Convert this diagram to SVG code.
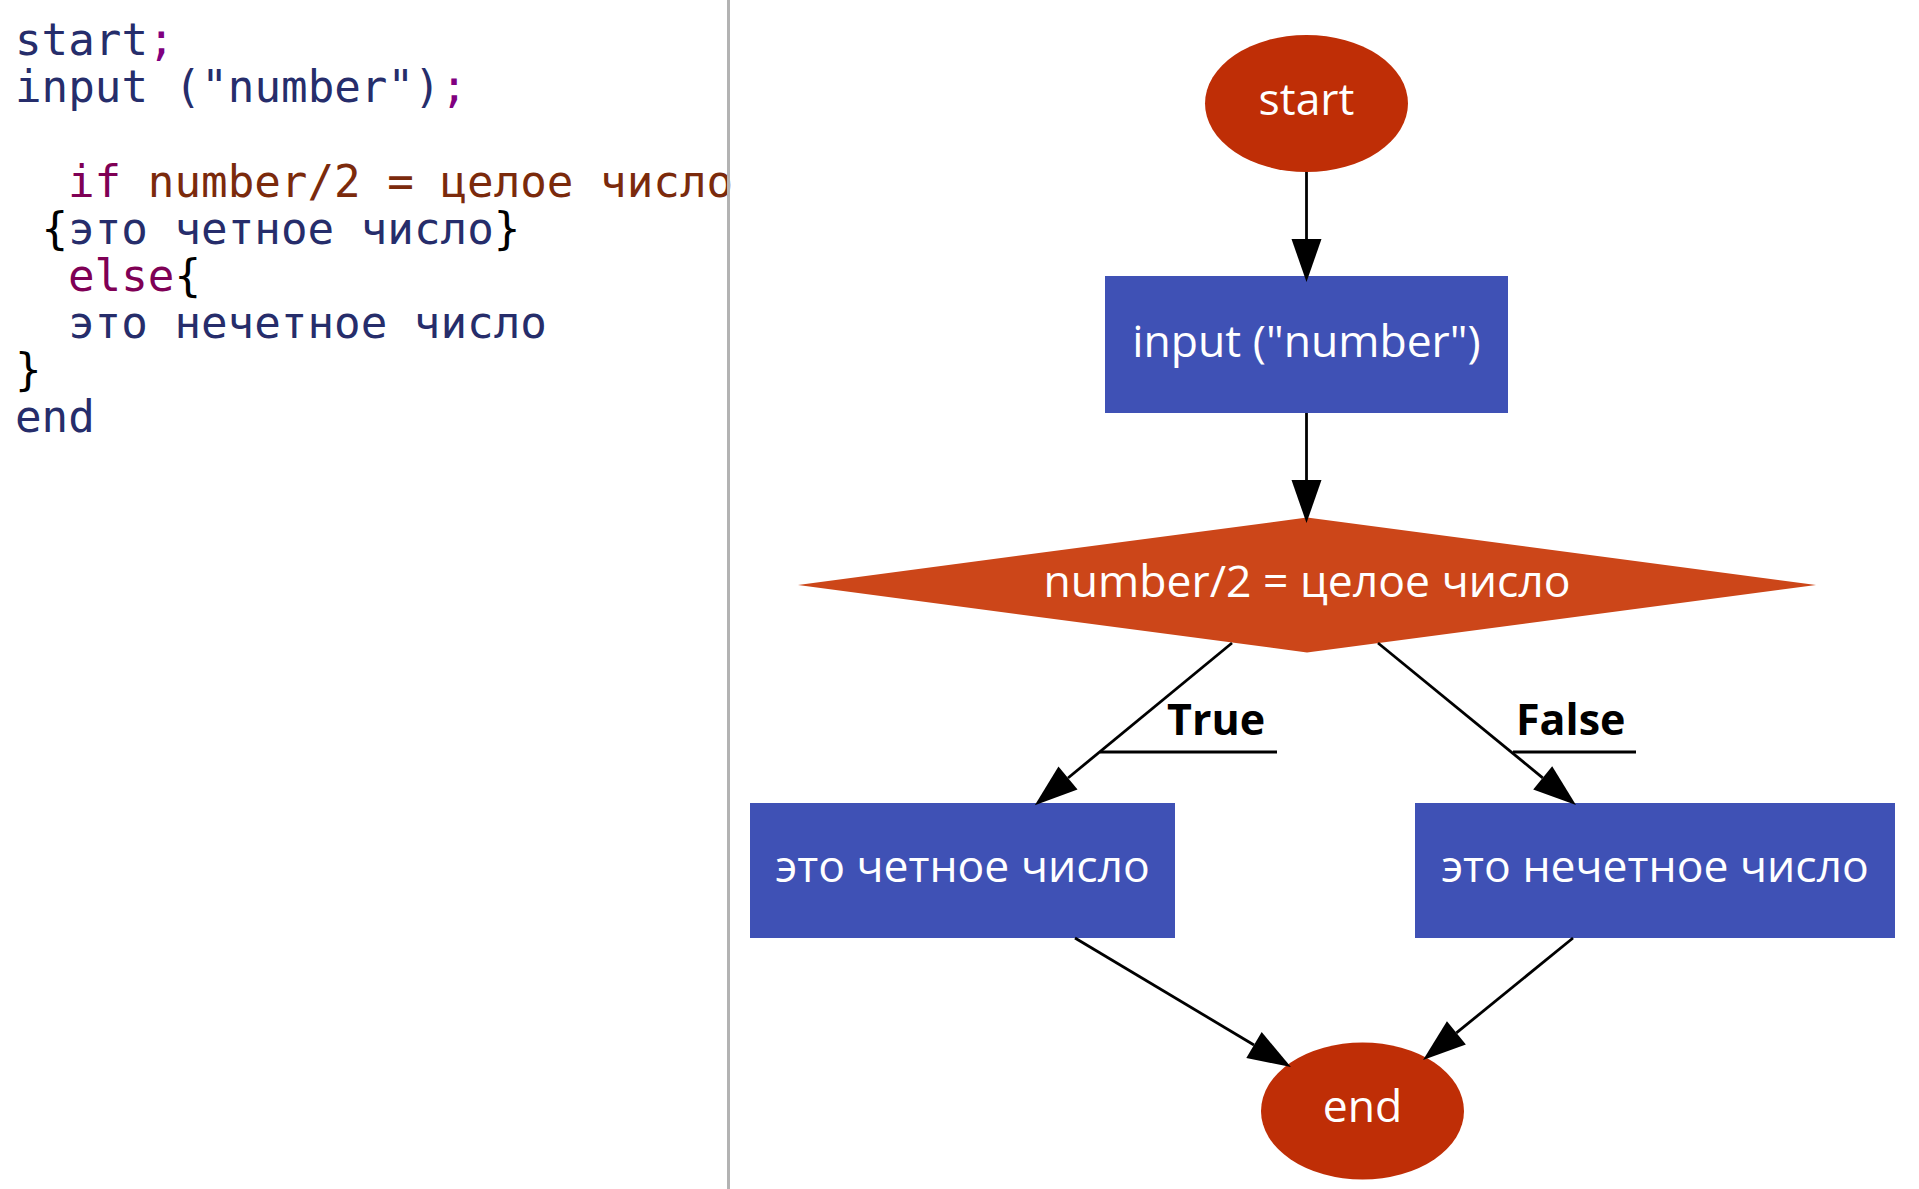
<svg xmlns="http://www.w3.org/2000/svg" width="1919" height="1189" viewBox="0 0 1919 1189">
  <style>
    .code { font-family: "DejaVu Sans Mono", "Liberation Mono", monospace; font-size: 44.2px; fill: #262d6b; }
    .kw { fill: #7f0055; }
    .semi { fill: #800080; }
    .cond { fill: #7b2a0c; }
    .brace { fill: #000000; }
    .lbl { font-family: "Open Sans", "Noto Sans", sans-serif; font-size: 44.5px; fill: #ffffff; text-anchor: middle; }
    .elabel { font-family: "Open Sans", "Noto Sans", sans-serif; font-size: 43px; font-weight: bold; fill: #000000; }
    .term { fill: #bf2e06; }
    .proc { fill: #3f51b5; }
    .dec { fill: #cc4619; }
    .edge { fill: none; stroke: #000000; stroke-width: 2.8; }
  </style>
  <defs>
    <marker id="arrow" markerUnits="userSpaceOnUse" markerWidth="44" markerHeight="31" refX="0" refY="15" orient="auto" overflow="visible">
      <path d="M0,0 L43,15 L0,30 Z" fill="#000000"/>
    </marker>
  </defs>
  <rect x="0" y="0" width="1919" height="1189" fill="#ffffff"/>

  <g id="code" xml:space="preserve">
    <text class="code" x="15" y="55">start<tspan class="semi">;</tspan></text>
    <text class="code" x="15" y="102">input ("number")<tspan class="semi">;</tspan></text>
    <text class="code" x="68" y="197"><tspan class="kw">if</tspan><tspan class="cond"> number/2 = целое число</tspan></text>
    <text class="code" x="41.5" y="244"><tspan class="brace">{</tspan>это четное число<tspan class="brace">}</tspan></text>
    <text class="code" x="68" y="291"><tspan class="kw">else</tspan><tspan class="brace">{</tspan></text>
    <text class="code" x="68" y="338">это нечетное число</text>
    <text class="code brace" x="15" y="385">}</text>
    <text class="code" x="15" y="432">end</text>
  </g>

  <line id="separator" x1="728.5" y1="0" x2="728.5" y2="1189" stroke="#b3b3b3" stroke-width="3"/>

  <g id="node-start">
    <ellipse class="term" cx="1306.5" cy="103.5" rx="101.5" ry="68.5"/>
    <text class="lbl" x="1306.5" y="115">start</text>
  </g>
  <g id="node-input">
    <rect class="proc" x="1105" y="276" width="403" height="137"/>
    <text class="lbl" x="1306.5" y="357">input ("number")</text>
  </g>
  <g id="node-decision">
    <polygon class="dec" points="1307,517.5 1816,585 1307,652.5 798,585"/>
    <text class="lbl" x="1307" y="597">number/2 = целое число</text>
  </g>
  <g id="node-even">
    <rect class="proc" x="750" y="803" width="425" height="135"/>
    <text class="lbl" x="962.5" y="882">это четное число</text>
  </g>
  <g id="node-odd">
    <rect class="proc" x="1415" y="803" width="480" height="135"/>
    <text class="lbl" x="1655" y="882">это нечетное число</text>
  </g>
  <g id="node-end">
    <ellipse class="term" cx="1362.5" cy="1111" rx="101.5" ry="68.5"/>
    <text class="lbl" x="1362.5" y="1122">end</text>
  </g>

  <g id="connectors">
    <path class="edge" d="M1306.5,172 L1306.5,239" marker-end="url(#arrow)"/>
    <path class="edge" d="M1306.5,413 L1306.5,480" marker-end="url(#arrow)"/>
    <path class="edge" d="M1232,643 L1068,778" marker-end="url(#arrow)"/>
    <path class="edge" d="M1378,643 L1542.7,777.8" marker-end="url(#arrow)"/>
    <path class="edge" d="M1075,938 L1254,1045" marker-end="url(#arrow)"/>
    <path class="edge" d="M1573,938 L1456.4,1032.9" marker-end="url(#arrow)"/>
    <g id="label-true">
      <text class="elabel" x="1167" y="735">True</text>
      <line class="edge" x1="1100" y1="752" x2="1277" y2="752"/>
    </g>
    <g id="label-false">
      <text class="elabel" x="1516" y="735">False</text>
      <line class="edge" x1="1513" y1="752" x2="1636" y2="752"/>
    </g>
  </g>
</svg>
